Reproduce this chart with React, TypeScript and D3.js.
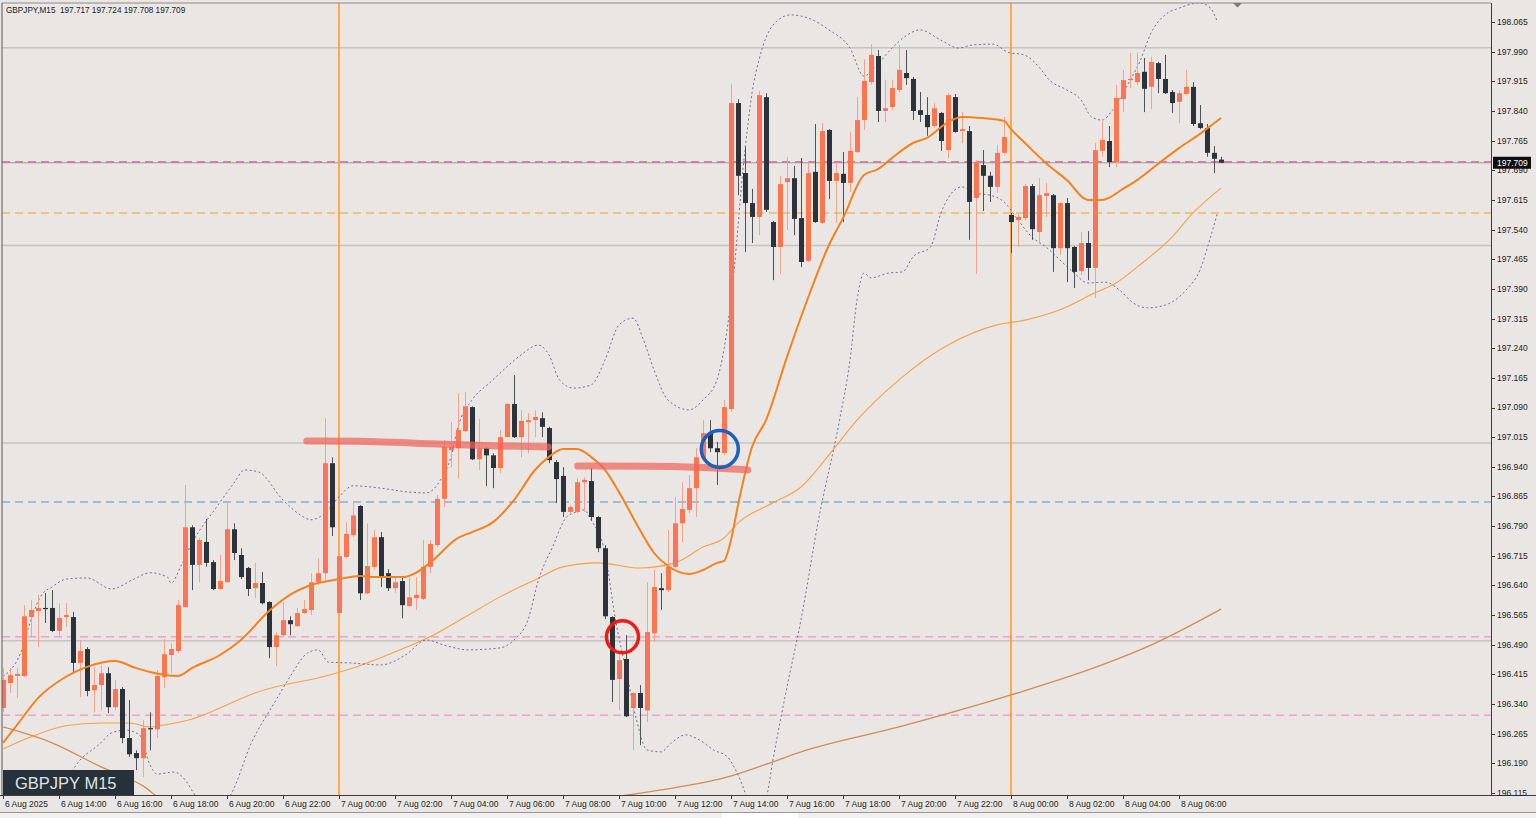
import React from 'react';
import * as d3 from 'd3';

const W = 1536;
const H = 818;

const headerText = 'GBPJPY,M15  197.717 197.724 197.708 197.709';
const symbolBadge = 'GBPJPY M15';
const currentPrice = 197.709;

// [open, high, low, close] — 15 min bars from 6 Aug 2025 12:00
const ohlc: [number, number, number, number][] = [
  [196.330,196.431,196.319,196.401],[196.393,196.431,196.368,196.413],[196.411,196.431,196.355,196.416],[196.411,196.590,196.408,196.562],
  [196.560,196.603,196.509,196.578],[196.575,196.616,196.484,196.583],[196.583,196.621,196.545,196.580],[196.583,196.628,196.522,196.525],
  [196.525,196.595,196.509,196.558],[196.560,196.595,196.535,196.565],[196.560,196.573,196.418,196.444],[196.444,196.502,196.358,196.474],
  [196.479,196.484,196.360,196.373],[196.375,196.433,196.319,196.388],[196.388,196.438,196.324,196.418],[196.418,196.433,196.317,196.332],
  [196.332,196.401,196.324,196.378],[196.378,196.383,196.241,196.254],[196.254,196.350,196.206,196.213],[196.216,196.223,196.173,196.203],
  [196.203,196.299,196.155,196.279],[196.279,196.319,196.223,196.276],[196.276,196.426,196.254,196.411],[196.408,196.504,196.380,196.466],
  [196.464,196.494,196.418,196.479],[196.474,196.603,196.469,196.590],[196.585,196.894,196.585,196.787],[196.787,196.792,196.628,196.692],
  [196.692,196.760,196.648,196.755],[196.750,196.808,196.687,196.697],[196.699,196.704,196.628,196.631],[196.631,196.717,196.628,196.651],
  [196.648,196.851,196.648,196.782],[196.782,196.797,196.704,196.722],[196.717,196.734,196.656,196.661],[196.684,196.687,196.613,196.631],
  [196.633,196.697,196.608,196.646],[196.646,196.674,196.592,196.595],[196.598,196.600,196.456,196.484],[196.484,196.522,196.436,196.514],
  [196.514,196.598,196.509,196.552],[196.552,196.562,196.514,196.542],[196.537,196.583,196.535,196.570],[196.570,196.603,196.568,196.580],
  [196.578,196.671,196.565,196.648],[196.648,196.709,196.641,196.671],[196.671,197.063,196.653,196.949],[196.949,196.964,196.765,196.787],
  [196.570,196.734,196.565,196.714],[196.712,196.800,196.709,196.770],[196.767,196.851,196.762,196.817],[196.841,196.843,196.603,196.620],
  [196.620,196.797,196.618,196.689],[196.687,196.780,196.679,196.762],[196.762,196.775,196.636,196.661],[196.671,196.681,196.626,196.633],
  [196.633,196.661,196.621,196.648],[196.651,196.659,196.557,196.590],[196.588,196.661,196.585,196.610],[196.608,196.661,196.578,196.616],
  [196.606,196.755,196.603,196.687],[196.687,196.755,196.671,196.745],[196.742,196.869,196.737,196.859],[196.859,197.008,196.838,196.990],
  [196.982,197.053,196.939,196.990],[196.987,197.126,196.911,197.033],[197.030,197.129,197.028,197.093],[197.091,197.093,196.957,196.959],
  [196.959,197.061,196.932,196.987],[196.987,196.990,196.891,196.969],[196.969,196.974,196.886,196.937],[196.937,197.033,196.924,197.015],
  [197.015,197.101,197.015,197.099],[197.099,197.172,197.013,197.015],[197.015,197.083,196.964,197.056],[197.053,197.076,196.974,197.058],
  [197.058,197.083,197.015,197.066],[197.063,197.078,197.015,197.041],[197.038,197.041,196.949,196.957],[196.952,196.957,196.848,196.909],
  [196.917,196.939,196.813,196.826],[196.826,196.843,196.823,196.838],[196.826,196.911,196.823,196.901],[196.901,196.914,196.826,196.907],
  [196.904,196.937,196.805,196.813],[196.813,196.815,196.724,196.734],[196.734,196.742,196.555,196.562],[196.560,196.562,196.345,196.401],
  [196.403,196.476,196.324,196.451],[196.454,196.514,196.307,196.309],[196.330,196.370,196.223,196.368],[196.368,196.388,196.236,196.330],
  [196.324,196.648,196.294,196.522],[196.519,196.679,196.497,196.636],[196.633,196.671,196.578,196.628],[196.628,196.780,196.623,196.687],
  [196.687,196.864,196.684,196.797],[196.797,196.901,196.750,196.833],[196.831,196.919,196.823,196.886],[196.886,196.987,196.813,196.964],
  [196.962,197.058,196.957,197.025],[197.025,197.058,196.977,196.987],[196.987,197.003,196.894,196.977],[196.975,197.109,196.969,197.091],
  [197.086,197.908,197.079,197.860],[197.860,197.870,197.627,197.676],[197.683,197.749,197.483,197.607],[197.607,197.643,197.506,197.572],
  [197.572,197.891,197.526,197.880],[197.875,197.885,197.585,197.590],[197.559,197.562,197.412,197.496],[197.496,197.676,197.428,197.655],
  [197.660,197.723,197.539,197.670],[197.670,197.701,197.526,197.567],[197.569,197.721,197.445,197.458],[197.461,197.711,197.458,197.683],
  [197.686,197.807,197.557,197.559],[197.557,197.809,197.554,197.789],[197.792,197.794,197.617,197.663],[197.663,197.708,197.557,197.683],
  [197.681,197.736,197.559,197.658],[197.658,197.787,197.635,197.739],[197.736,197.875,197.734,197.817],[197.817,197.971,197.792,197.916],
  [197.913,198.009,197.906,197.982],[197.979,197.994,197.812,197.840],[197.840,197.919,197.812,197.847],[197.850,197.919,197.842,197.898],
  [197.893,198.007,197.888,197.944],[197.936,197.994,197.906,197.923],[197.921,197.926,197.817,197.840],[197.842,197.888,197.812,197.830],
  [197.830,197.875,197.777,197.799],[197.802,197.860,197.799,197.847],[197.835,197.837,197.739,197.764],[197.741,197.885,197.721,197.880],
  [197.875,197.883,197.785,197.787],[197.789,197.837,197.759,197.794],[197.789,197.802,197.514,197.610],[197.620,197.716,197.428,197.711],
  [197.703,197.741,197.587,197.676],[197.676,197.686,197.610,197.648],[197.648,197.754,197.633,197.734],[197.734,197.825,197.729,197.774],
  [197.577,197.582,197.481,197.559],[197.564,197.582,197.496,197.572],[197.569,197.655,197.564,197.650],[197.650,197.655,197.514,197.541],
  [197.534,197.670,197.504,197.627],[197.625,197.658,197.572,197.632],[197.627,197.630,197.433,197.493],[197.493,197.610,197.476,197.607],
  [197.607,197.620,197.407,197.493],[197.496,197.498,197.392,197.433],[197.435,197.534,197.425,197.506],[197.506,197.536,197.412,197.443],
  [197.443,197.759,197.367,197.741],[197.739,197.815,197.724,197.767],[197.764,197.802,197.698,197.711],[197.711,197.906,197.698,197.873],
  [197.870,197.944,197.837,197.918],[197.918,197.987,197.898,197.921],[197.913,197.987,197.906,197.936],[197.939,197.974,197.837,197.896],
  [197.901,197.977,197.845,197.964],[197.961,197.964,197.885,197.921],[197.921,197.982,197.883,197.885],[197.888,197.893,197.835,197.860],
  [197.863,197.893,197.809,197.885],[197.883,197.944,197.880,197.901],[197.901,197.913,197.802,197.807],[197.809,197.855,197.794,197.797],
  [197.797,197.807,197.724,197.734],[197.734,197.751,197.683,197.719],[197.717,197.724,197.708,197.709],
];

// indicator readings: [bar index, price]
const fastMA: [number, number][] = [
  [0,196.242],[2,196.287],[5,196.355],[9,196.409],[12,196.434],[16,196.449],[19,196.431],[21,196.421],[25,196.411],[27,196.431],
  [31,196.464],[34,196.502],[38,196.575],[41,196.616],[44,196.641],[48,196.656],[51,196.664],[53,196.661],[57,196.661],[59,196.672],
  [61,196.697],[65,196.760],[67,196.775],[70,196.800],[73,196.856],[76,196.932],[78,196.965],[80,196.985],[82,196.985],[84,196.965],
  [86,196.932],[88,196.876],[91,196.780],[93,196.722],[95,196.689],[98,196.669],[100,196.679],[102,196.697],[103,196.702],[104,196.755],
  [105,196.843],[107,196.990],[109,197.058],[112,197.218],[115,197.367],[118,197.501],[120,197.569],[123,197.678],[125,197.693],[127,197.721],
  [130,197.759],[132,197.772],[135,197.812],[137,197.825],[140,197.822],[143,197.815],[144,197.794],[146,197.759],[149,197.708],[152,197.665],
  [155,197.615],[157,197.615],[160,197.643],[162,197.665],[165,197.706],[168,197.746],[171,197.782],[174,197.822],
];

const slowMA: [number, number][] = [
  [0,196.226],[4,196.257],[9,196.285],[14,196.292],[18,196.292],[21,196.282],[23,196.287],[27,196.302],[31,196.330],[36,196.368],
  [40,196.388],[45,196.406],[50,196.431],[56,196.472],[61,196.510],[66,196.560],[71,196.611],[76,196.654],[80,196.687],[85,196.697],
  [91,196.684],[96,196.697],[100,196.737],[103,196.760],[105,196.798],[110,196.849],[114,196.889],[118,196.970],[122,197.058],[128,197.160],
  [135,197.248],[142,197.299],[146,197.311],[151,197.337],[156,197.380],[159,197.405],[162,197.445],[167,197.521],[170,197.582],[174,197.645],
];

const longMA: [number, number][] = [
  [0,196.282],[7,196.242],[14,196.181],[20,196.133],[23,196.097],[30,196.080],[60,196.070],[83,196.097],[88,196.107],[94,196.123],
  [103,196.153],[110,196.194],[114,196.219],[128,196.282],[144,196.363],[157,196.439],[164,196.489],[174,196.580],
];

const bandUpper: [number, number][] = [
  [0,196.409],[2.5,196.469],[4,196.553],[5.5,196.616],[7,196.636],[9,196.656],[12,196.659],[15.5,196.631],[18.5,196.654],[21,196.672],
  [23.5,196.661],[24,196.646],[25.5,196.692],[27,196.747],[30.5,196.838],[33,196.899],[34.5,196.932],[36.5,196.927],[40,196.856],[42.5,196.818],
  [44,196.806],[46,196.823],[48,196.864],[50,196.892],[54,196.886],[58,196.876],[60.5,196.874],[62.5,196.907],[64,196.965],[65,197.041],
  [67,197.109],[69.5,197.152],[72,197.193],[74,197.223],[76.5,197.248],[78,197.223],[79.5,197.160],[81.5,197.139],[84,197.147],[86,197.210],
  [88,197.299],[90,197.316],[91.5,197.261],[93,197.185],[95,197.109],[98,197.084],[100,197.109],[102,197.160],[104,197.362],[106,197.741],
  [107,197.885],[108,197.969],[110,198.057],[112.5,198.083],[115,198.075],[118,198.045],[121,197.999],[123,197.928],[124.5,197.949],[127,197.999],
  [129,198.030],[131,198.045],[134,198.019],[136.5,197.999],[138.5,198.007],[141.5,198.009],[143.5,197.989],[146,197.981],[148,197.951],[149.5,197.918],
  [152,197.893],[154,197.868],[155.5,197.825],[157,197.817],[158.5,197.842],[160.5,197.901],[162.5,197.969],[164,198.037],[166,198.083],[168,198.100],
  [171,198.113],[172.5,198.100],[173.5,198.065],
];

const bandLower: [number, number][] = [
  [8,196.097],[10,196.173],[14,196.242],[15.5,196.267],[17.5,196.274],[19.5,196.262],[21,196.186],[22,196.163],[24.5,196.168],[25.5,196.158],
  [28,196.097],[30,196.072],[32.5,196.110],[35.5,196.242],[39,196.350],[41,196.409],[43.5,196.469],[45,196.477],[46.5,196.446],[49.5,196.444],
  [54,196.439],[57.5,196.464],[60.5,196.502],[63,196.489],[66.5,196.477],[71,196.482],[73,196.502],[75,196.553],[76.5,196.654],[78.5,196.737],
  [80.5,196.813],[81.5,196.823],[83,196.831],[84,196.806],[86,196.722],[87.5,196.553],[89,196.426],[90.5,196.300],[92,196.224],[94,196.219],
  [95.5,196.242],[97.5,196.262],[99.5,196.249],[101.5,196.224],[103.5,196.206],[105,196.161],[106.5,196.097],[108,196.060],[109,196.097],[110,196.199],
  [112,196.383],[114,196.553],[116.5,196.806],[119.5,197.058],[121,197.210],[122,197.362],[123,197.430],[124,197.418],[126.5,197.430],[128.5,197.433],
  [130,197.471],[132.5,197.496],[134,197.582],[135.5,197.632],[137,197.648],[139,197.632],[141,197.627],[143,197.610],[145,197.564],[147,197.521],
  [149,197.496],[151,197.463],[153,197.430],[155,197.405],[157.5,197.407],[159.5,197.387],[161.5,197.354],[163.5,197.342],[166,197.349],[169,197.387],
  [171,197.438],[172.5,197.521],[173.5,197.582],
];

const timeLabels = [
  '6 Aug 2025','6 Aug 14:00','6 Aug 16:00','6 Aug 18:00','6 Aug 20:00','6 Aug 22:00',
  '7 Aug 00:00','7 Aug 02:00','7 Aug 04:00','7 Aug 06:00','7 Aug 08:00','7 Aug 10:00',
  '7 Aug 12:00','7 Aug 14:00','7 Aug 16:00','7 Aug 18:00','7 Aug 20:00','7 Aug 22:00',
  '8 Aug 00:00','8 Aug 02:00','8 Aug 04:00','8 Aug 06:00',
];
const barsPerLabel = 8;

const priceTicks = [
  196.115,196.190,196.265,196.340,196.415,196.490,196.565,196.640,196.715,196.790,196.865,196.940,197.015,197.090,
  197.165,197.240,197.315,197.390,197.465,197.540,197.615,197.690,197.765,197.840,197.915,197.990,198.065,
];

const dayStartBars = [48, 144];
const roundLevels = [196.5, 197.0, 197.5, 198.0];
const pinkLevels = [196.510, 196.312];
const markLevel = 197.711;
const blueLevels = [196.851];
const orangeLevels = [197.582];

const redStroke1: [number, number][] = [[43.4,197.005],[52,197.005],[61,196.998],[70,196.993],[77.9,196.990]];
const redStroke2: [number, number][] = [[82.1,196.942],[98,196.942],[106.4,196.932]];
const blueMark: [number, number] = [102.4, 196.985];
const redMark: [number, number] = [88.5, 196.510];

const PL = 2, PR = 1491, PT = 3, PB = 795;

export default function App() {
  const x = d3.scaleLinear().domain([0, 174]).range([3, 3 + 7 * 174]);
  const y = d3.scaleLinear().domain([196.115, 198.065]).range([793, 22]);
  const line = d3.line<[number, number]>().x(d => x(d[0])).y(d => y(d[1])).curve(d3.curveMonotoneX);
  const rough = d3.line<[number, number]>().x(d => x(d[0])).y(d => y(d[1])).curve(d3.curveBasis);
  const font = "'Liberation Sans', Arial, sans-serif";
  const bullBody = '#ff7552', bullWick = '#f5a28c', bearBody = '#2b3239', bearWick = '#4b535a';

  return (
    <svg width={W} height={H} style={{ position: 'absolute', left: 0, top: 0, display: 'block' }} fontFamily={font}>
      <defs>
        <clipPath id="plot"><rect x={PL} y={PT} width={PR - PL} height={PB - PT} /></clipPath>
      </defs>
      <rect x={0} y={0} width={W} height={H} fill="#e9e6e3" />

      <g clipPath="url(#plot)">
        {roundLevels.map((p, i) => (
          <line key={'r' + i} x1={PL} x2={PR} y1={y(p)} y2={y(p)} stroke="#c6c3c0" strokeWidth={1.5} />
        ))}
        <line x1={PL} x2={PR} y1={y(currentPrice)} y2={y(currentPrice)} stroke="#9d9d9d" strokeWidth={1} />
        {pinkLevels.map((p, i) => (
          <line key={'p' + i} x1={PL} x2={PR} y1={y(p)} y2={y(p)} stroke="#ef93c4" strokeWidth={1.2} strokeDasharray="8,5" />
        ))}
        <line x1={PL} x2={PR} y1={y(markLevel)} y2={y(markLevel)} stroke="#dc5a93" strokeWidth={1.3} strokeDasharray="8,5" />
        {blueLevels.map((p, i) => (
          <line key={'b' + i} x1={PL} x2={PR} y1={y(p)} y2={y(p)} stroke="#5c8fd0" strokeWidth={1.2} strokeDasharray="8,5" />
        ))}
        {orangeLevels.map((p, i) => (
          <line key={'o' + i} x1={PL} x2={PR} y1={y(p)} y2={y(p)} stroke="#f5b560" strokeWidth={1.5} strokeDasharray="8,5" />
        ))}
        {dayStartBars.map((b, i) => (
          <line key={'v' + i} x1={x(b)} x2={x(b)} y1={PT} y2={PB} stroke="#ff9a22" strokeWidth={1.6} />
        ))}

        <path d={line(longMA) || ''} fill="none" stroke="#d08d55" strokeWidth={1.3} />
        <path d={line(slowMA) || ''} fill="none" stroke="#f8a048" strokeWidth={1.1} />
        <path d={line(bandUpper) || ''} fill="none" stroke="#6f6c96" strokeWidth={1} strokeDasharray="2,2.5" />
        <path d={line(bandLower) || ''} fill="none" stroke="#6f6c96" strokeWidth={1} strokeDasharray="2,2.5" />

        {ohlc.map((c, i) => {
          const [o, h, l, cl] = c;
          const bull = cl >= o;
          const cx = Math.round(x(i));
          const top = y(Math.max(o, cl));
          const bh = Math.max(1, Math.abs(y(o) - y(cl)));
          return (
            <g key={'c' + i}>
              <line x1={cx + 0.5} x2={cx + 0.5} y1={y(h)} y2={y(l)} stroke={bull ? bullWick : bearWick} strokeWidth={1} />
              <rect x={cx - 2} y={top} width={5} height={bh} fill={bull ? bullBody : bearBody} />
            </g>
          );
        })}

        <path d={line(fastMA) || ''} fill="none" stroke="#f5821f" strokeWidth={2} />

        <path d={rough(redStroke1) || ''} fill="none" stroke="rgba(240,100,90,0.72)" strokeWidth={7} strokeLinecap="round" />
        <path d={rough(redStroke2) || ''} fill="none" stroke="rgba(240,100,90,0.72)" strokeWidth={7} strokeLinecap="round" />
        <circle cx={x(blueMark[0])} cy={y(blueMark[1])} r={18.5} fill="none" stroke="#1f60bd" strokeWidth={3.5} />
        <circle cx={x(redMark[0])} cy={y(redMark[1])} r={16} fill="none" stroke="#ee1c14" strokeWidth={3.5} />
      </g>

      {/* frame */}
      <line x1={PL} x2={PR} y1={PT} y2={PT} stroke="#8c8c8c" strokeWidth={1} />
      <line x1={PL} x2={PL} y1={PT} y2={PB} stroke="#5a5a5a" strokeWidth={1} />
      <line x1={PR + 0.5} x2={PR + 0.5} y1={PT} y2={PB} stroke="#3c3c3c" strokeWidth={1} />
      <line x1={0} x2={W} y1={PB + 0.5} y2={PB + 0.5} stroke="#3c3c3c" strokeWidth={1} />
      <polygon points="1233,3 1242,3 1237.5,7.5" fill="#7a7a7a" />

      {/* price axis */}
      {priceTicks.map((p, i) => (
        <g key={'t' + i}>
          <line x1={PR} x2={PR + 4} y1={Math.round(y(p)) + 0.5} y2={Math.round(y(p)) + 0.5} stroke="#3c3c3c" />
          <text x={PR + 6} y={y(p)} dy="0.35em" fontSize={8.5} fill="#1c1c1c">{p.toFixed(3)}</text>
        </g>
      ))}
      <rect x={PR + 2} y={y(currentPrice) - 6} width={38} height={12} fill="#0d0d0d" />
      <text x={PR + 6} y={y(currentPrice)} dy="0.35em" fontSize={8.5} fill="#ffffff">{currentPrice.toFixed(3)}</text>

      {/* time axis */}
      {timeLabels.map((t, k) => {
        const tx = Math.round(x(k * barsPerLabel));
        return (
          <g key={'x' + k}>
            <line x1={tx + 0.5} x2={tx + 0.5} y1={PB} y2={PB + 4} stroke="#3c3c3c" />
            <text x={tx + 2} y={PB + 12} fontSize={8.5} fill="#1c1c1c">{t}</text>
          </g>
        );
      })}

      {/* header */}
      <text x={6} y={13} fontSize={8.2} fill="#1c1c1c" style={{ whiteSpace: 'pre' }}>{headerText}</text>

      {/* symbol badge */}
      <rect x={3} y={770} width={131} height={25} fill="#27313a" />
      <text x={15} y={789} fontSize={16.5} fill="#dfe3e6">{symbolBadge}</text>

      {/* bottom tab strip */}
      <line x1={0} x2={W} y1={812.5} y2={812.5} stroke="#9a9896" />
      <rect x={0} y={813} width={W} height={5} fill="#f1f0ef" />
      <rect x={722} y={813} width={76} height={5} fill="#ffffff" />
    </svg>
  );
}
